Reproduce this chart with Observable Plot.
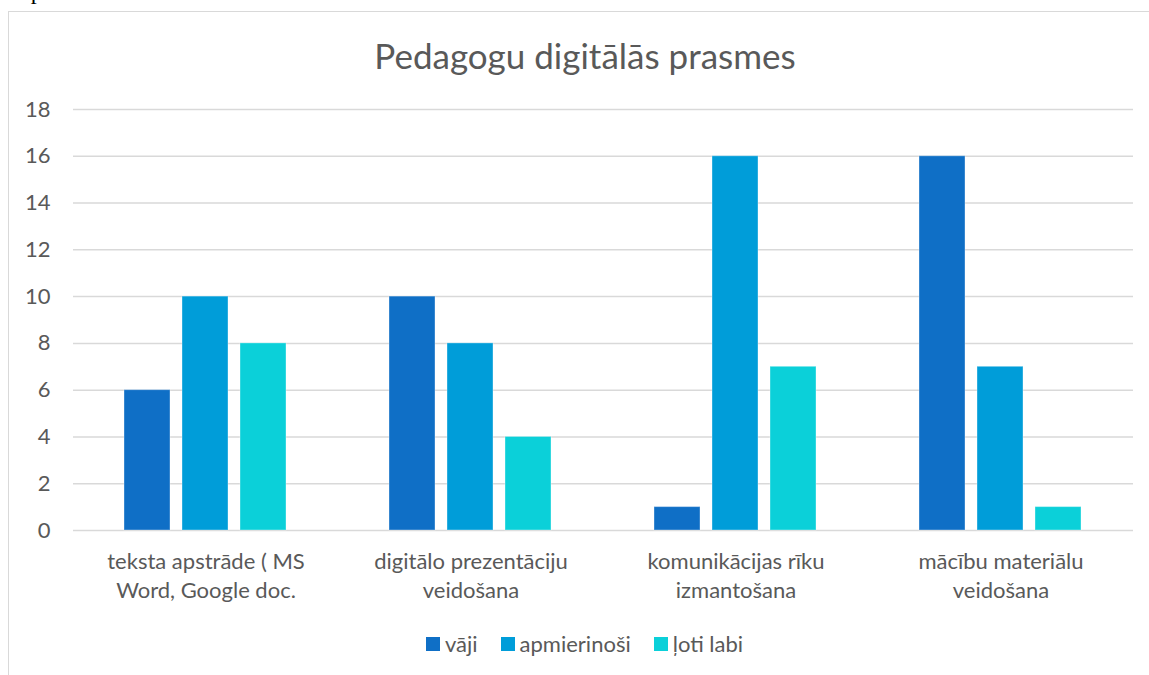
<!DOCTYPE html>
<html><head><meta charset="utf-8">
<script src="https://cdn.jsdelivr.net/npm/d3@7"></script>
<script src="https://cdn.jsdelivr.net/npm/@observablehq/plot@0.6"></script>
<style>
body{margin:0;width:1149px;height:675px;overflow:hidden;position:relative;background:#fff;font-family:Lato,sans-serif;color:#595959}
#above{position:absolute;left:8px;top:-21px;font-family:"Liberation Serif",serif;font-size:24px;color:#000;line-height:24px;white-space:nowrap}
#frame{position:absolute;left:8px;top:11px;width:1200px;height:700px;border:1.5px solid #d9d9d9;box-sizing:border-box}
#title{position:absolute;left:0;width:1170px;top:34px;text-align:center;font-size:35px;line-height:42px;color:#595959}
#chart{position:absolute;left:0;top:90px}
#legend{position:absolute;left:426px;top:631px;display:flex;align-items:center;font-size:22px;line-height:26px;color:#595959}
#legend .item{display:flex;align-items:center;margin-right:23px}
#legend .sw{width:14px;height:14px;margin-right:5px}
</style></head>
<body>
<div id="above">nepieciešamība.</div>
<div id="frame"></div>
<div id="title">Pedagogu digitālās prasmes</div>
<div id="chart"></div>
<div id="legend"></div>
<script>
const categories = ["teksta apstrāde ( MS Word, Google doc.", "digitālo prezentāciju veidošana", "komunikācijas rīku izmantošana", "mācību materiālu veidošana"];
const categoryLabels = ["teksta apstrāde ( MS\nWord, Google doc.", "digitālo prezentāciju\nveidošana", "komunikācijas rīku\nizmantošana", "mācību materiālu\nveidošana"];
const series = ["vāji", "apmierinoši", "ļoti labi"];
const vaji = [6, 10, 1, 16];
const apmierinosi = [10, 8, 16, 7];
const lotiLabi = [8, 4, 7, 1];
const seriesColors = ["#0F6FC6", "#009DD9", "#0BD0D9"];
const yTicks = [0, 2, 4, 6, 8, 10, 12, 14, 16, 18];

const valuesBySeries = [vaji, apmierinosi, lotiLabi];
const rows = [];
categories.forEach((c, i) => series.forEach((s, j) => rows.push({category: c, series: s, value: valuesBySeries[j][i]})));
const labelOf = new Map(categories.map((c, i) => [c, categoryLabels[i]]));

const chart = Plot.plot({
  width: 1149,
  height: 520,
  marginLeft: 73,
  marginRight: 16,
  marginTop: 19,
  marginBottom: 80,
  style: {fontFamily: "Lato, sans-serif", color: "#595959", background: "transparent"},
  fx: {domain: categories, padding: 0, label: null},
  x: {domain: series, paddingInner: 0.205, paddingOuter: 0.867, axis: null},
  y: {domain: [0, 18], label: null},
  color: {domain: series, range: seriesColors},
  marks: [
    Plot.gridY(yTicks, {stroke: "#d9d9d9", strokeOpacity: 1, strokeWidth: 1.5}),
    Plot.axisY(yTicks, {tickSize: 0, tickPadding: 23, fontSize: 22, fill: "#595959", label: null}),
    Plot.axisFx({anchor: "bottom", tickSize: 0, tickPadding: 18, fontSize: 22, lineHeight: 1.32, fill: "#595959", tickFormat: d => labelOf.get(d), label: null}),
    Plot.barY(rows, {fx: "category", x: "series", y: "value", fill: "series", stroke: "#ffffff", strokeOpacity: 0.35, strokeWidth: 1})
  ]
});
document.getElementById("chart").appendChild(chart);

const legend = document.getElementById("legend");
series.forEach((s, i) => {
  const it = document.createElement("div");
  it.className = "item";
  const sw = document.createElement("div");
  sw.className = "sw";
  sw.style.background = seriesColors[i];
  const tx = document.createElement("span");
  tx.textContent = s;
  it.appendChild(sw); it.appendChild(tx);
  legend.appendChild(it);
});
</script>
</body></html>
